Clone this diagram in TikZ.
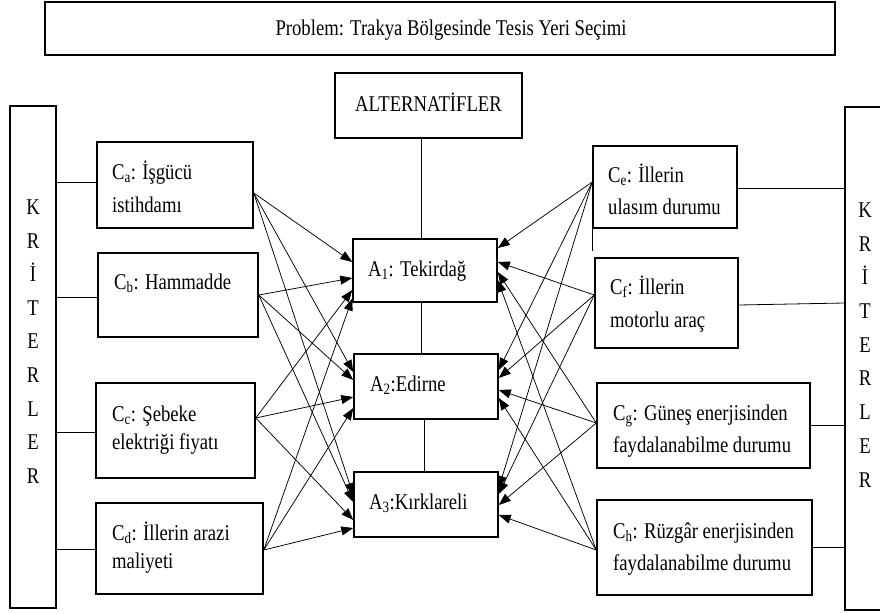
\documentclass[tikz,border=0pt]{standalone}
\usepackage{fontspec}
\setmainfont[FakeStretch=0.83]{Liberation Serif}
\usetikzlibrary{arrows.meta,calc}
\begin{document}
\begin{tikzpicture}[x=1pt,y=-1pt,
  box/.style={draw,line width=1.5pt,inner sep=0pt},
  txt/.style={anchor=base west,inner sep=0pt,font=\fontsize{22.5}{26}\selectfont},
  ctxt/.style={anchor=base,inner sep=0pt,font=\fontsize{22.5}{26}\selectfont},
  letter/.style={inner sep=0pt,text height=14.9pt,text depth=0pt,font=\fontsize{22.5}{26}\selectfont},
  thin/.style={line width=0.8pt},
  conn/.style={line width=0.75pt,-{Triangle[length=12pt,width=9pt]}}]
\useasboundingbox (0,0) rectangle (880,613);
% boxes
\node[box,minimum width=790,minimum height=53] (P) at (440,28.5) {};
\node[box,minimum width=187,minimum height=65] (ALT) at (428.5,105.5) {};
\node[box,minimum width=144,minimum height=63] (A1) at (425,270.5) {};
\node[box,minimum width=144,minimum height=65] (A2) at (426,386.5) {};
\node[box,minimum width=144,minimum height=65] (A3) at (426,504.5) {};
\node[box,minimum width=46,minimum height=502] (KL) at (33,357) {};
\node[box,minimum width=55,minimum height=503] (KR) at (872.5,358.5) {};
\node[box,minimum width=156,minimum height=86] (Ca) at (175,185) {};
\node[box,minimum width=160,minimum height=84] (Cb) at (178,295) {};
\node[box,minimum width=159,minimum height=95] (Cc) at (175.5,430.5) {};
\node[box,minimum width=167,minimum height=91] (Cd) at (179.5,548.5) {};
\node[box,minimum width=144,minimum height=82] (Ce) at (665,187) {};
\node[box,minimum width=143,minimum height=90] (Cf) at (666.5,303) {};
\node[box,minimum width=213,minimum height=85] (Cg) at (703.5,425.5) {};
\node[box,minimum width=215,minimum height=95] (Ch) at (704.5,547.5) {};
% texts
\node[ctxt] (Pt) at (451,35) {Problem: Trakya Bölgesinde Tesis Yeri Seçimi};
\node[ctxt] (ALTt) at (428.5,111) {ALTERNATİFLER};
\node[txt] (A1t) at (368,276) {A\textsubscript{1}: Tekirdağ};
\node[txt] (A2t) at (370,391) {A\textsubscript{2}:Edirne};
\node[txt] (A3t) at (369,509) {A\textsubscript{3}:Kırklareli};
\node[txt] (Ca1) at (112,179) {C\textsubscript{a}: İşgücü};
\node[txt] (Ca2) at (112,212) {istihdamı};
\node[txt] (Cb1) at (114,289) {C\textsubscript{b}: Hammadde};
\node[txt] (Cc1) at (112,421) {C\textsubscript{c}: Şebeke};
\node[txt] (Cc2) at (112,449) {elektriği fiyatı};
\node[txt] (Cd1) at (112,540) {C\textsubscript{d}: İllerin arazi};
\node[txt] (Cd2) at (112,568) {maliyeti};
\node[txt] (Ce1) at (608,182) {C\textsubscript{e}: İllerin};
\node[txt] (Ce2) at (608,214) {ulasım durumu};
\node[txt] (Cf1) at (610,294) {C\textsubscript{f}: İllerin};
\node[txt] (Cf2) at (610,327) {motorlu araç};
\node[txt] (Cg1) at (613,420) {C\textsubscript{g}: Güneş enerjisinden};
\node[txt] (Cg2) at (613,452) {faydalanabilme durumu};
\node[txt] (Ch1) at (613,538) {C\textsubscript{h}: Rüzgâr enerjisinden};
\node[txt] (Ch2) at (613,570) {faydalanabilme durumu};
% vertical letters
\foreach \l [count=\i] in {K,R,İ,T,E,R,L,E,R}{
  \node[letter] (L\i) at (33,{207+33.6*(\i-1)}) {\l};
  \node[letter] (R\i) at (865,{210+33.7*(\i-1)}) {\l};
}
% plain links
\draw[thin] (KL.east |- 0,182) -- (Ca.west |- 0,182);
\draw[thin] (KL.east |- 0,297) -- (Cb.west |- 0,297);
\draw[thin] (KL.east |- 0,432) -- (Cc.west |- 0,432);
\draw[thin] (KL.east |- 0,549) -- (Cd.west |- 0,549);
\draw[thin] (Ce.east |- 0,188) -- (KR.west |- 0,188);
\draw[thin] (Cf.east |- 0,305) -- (KR.west |- 0,303);
\draw[thin] (Cg.east |- 0,425) -- (KR.west |- 0,425);
\draw[thin] (Ch.east |- 0,547) -- (KR.west |- 0,547);
\draw[thin] (ALT.south -| 421,0) -- (A1.north -| 421,0);
\draw[thin] (A1.south -| 421,0) -- (A2.north -| 421,0);
\draw[thin] (A2.south -| 424,0) -- (A3.north -| 424,0);
\coordinate (ceb) at ($(Ce.south west)+(0,22)$);
\draw[thin] (Ce.south west) -- (ceb);
% start points
\coordinate (sa) at ($(Ca.east)+(0,8)$);
\coordinate (sb) at ($(Cb.east)+(0,0)$);
\coordinate (sc) at ($(Cc.east)+(0,-12.5)$);
\coordinate (sd) at ($(Cd.east)+(0,1.5)$);
\coordinate (se) at ($(Ce.west)+(0,-5)$);
\coordinate (sf) at ($(Cf.west)+(0,-8)$);
\coordinate (sg) at ($(Cg.west)+(0,-2.5)$);
\coordinate (sh) at ($(Ch.west)+(0,2.5)$);
% arrows
\foreach \s/\a/\d in {sa/A1/-8.5,sb/A1/7.5,sc/A1/19.5,sd/A1/28,
                      sa/A2/-14.5,sb/A2/-6.5,sc/A2/10.5,sd/A2/21.5,
                      sa/A3/-9.5,sb/A3/-2.5,sc/A3/15.5,sd/A3/23.5}
  \draw[conn] (\s) -- ($(\a.west)+(0,\d)$);
\foreach \s/\a/\d in {se/A1/-22.5,sf/A1/-8.5,sg/A1/1.5,sh/A1/9.5,
                      se/A2/-16.5,sf/A2/-8.5,sg/A2/3.5,sh/A2/11.5,
                      se/A3/-16.5,sf/A3/-10.5,sg/A3/0.5,sh/A3/10.5}
  \draw[conn] (\s) -- ($(\a.east)+(0,\d)$);
\end{tikzpicture}
\end{document}
